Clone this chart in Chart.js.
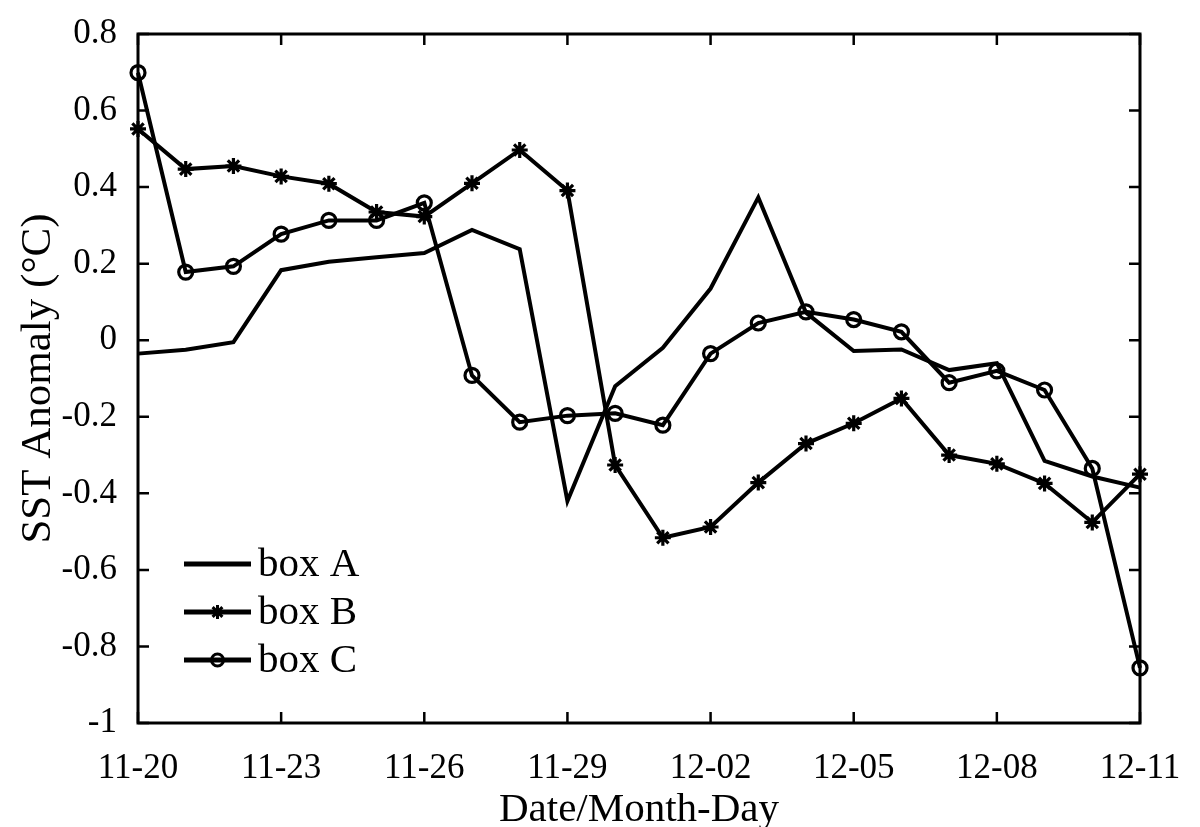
<!DOCTYPE html>
<html>
<head>
<meta charset="utf-8">
<script src="https://cdn.jsdelivr.net/npm/chart.js@4/dist/chart.umd.min.js"></script>
<style>
  html, body { margin: 0; padding: 0; background: #fff; }
  #wrap { width: 1200px; height: 827px; }
</style>
</head>
<body>
<div id="wrap"><canvas id="SST_Chart"></canvas></div>
<script>
////////////////////////data////////////////////////////////
var dates = ['11-20', '11-21', '11-22', '11-23', '11-24', '11-25', '11-26', '11-27',
             '11-28', '11-29', '11-30', '12-01', '12-02', '12-03', '12-04', '12-05',
             '12-06', '12-07', '12-08', '12-09', '12-10', '12-11'];
var xTickDates = ['11-20', '11-23', '11-26', '11-29', '12-02', '12-05', '12-08', '12-11'];
var yTicks = [-1, -0.8, -0.6, -0.4, -0.2, 0, 0.2, 0.4, 0.6, 0.8];

var boxA = [-0.035, -0.025, -0.005, 0.183, 0.205, 0.217, 0.228, 0.288, 0.238, -0.42, -0.12,
            -0.02, 0.135, 0.373, 0.072, -0.028, -0.024, -0.078, -0.06, -0.315, -0.356, -0.385];
var boxB = [0.552, 0.447, 0.455, 0.428, 0.409, 0.335, 0.323, 0.41, 0.497, 0.391, -0.326,
            -0.516, -0.488, -0.372, -0.27, -0.217, -0.152, -0.3, -0.323, -0.374, -0.476, -0.35];
var boxC = [0.699, 0.178, 0.193, 0.277, 0.313, 0.313, 0.359, -0.092, -0.214, -0.197, -0.191,
            -0.222, -0.035, 0.045, 0.074, 0.054, 0.022, -0.111, -0.08, -0.13, -0.335, -0.856];

var seriesNames = ['box A', 'box B', 'box C'];

/////////////////////////////////////////////////////////////
var FONT = "'Liberation Serif', 'Times New Roman', serif";

// MATLAB style box with inward ticks on all four sides
var boxFrame = {
    id: 'boxFrame',
    afterDraw: function(chart) {
        var ctx = chart.ctx;
        var a = chart.chartArea;
        var xs = chart.scales.x;
        var ys = chart.scales.y;
        var tl = 11;
        ctx.save();
        ctx.strokeStyle = '#000';
        ctx.lineWidth = 3;
        ctx.strokeRect(a.left, a.top, a.right - a.left, a.bottom - a.top);
        ctx.lineWidth = 2.5;
        ctx.beginPath();
        xTickDates.forEach(function(d) {
            var px = xs.getPixelForValue(dates.indexOf(d));
            ctx.moveTo(px, a.bottom); ctx.lineTo(px, a.bottom - tl);
            ctx.moveTo(px, a.top); ctx.lineTo(px, a.top + tl);
        });
        yTicks.forEach(function(v) {
            var py = ys.getPixelForValue(v);
            ctx.moveTo(a.left, py); ctx.lineTo(a.left + tl, py);
            ctx.moveTo(a.right, py); ctx.lineTo(a.right - tl, py);
        });
        ctx.stroke();

        // legend, line with marker in the middle
        var lx0 = 184, lx1 = 251, ly = 564, step = 48;
        chart.data.datasets.forEach(function(ds, i) {
            var y = ly + i * step;
            var cx = (lx0 + lx1) / 2;
            ctx.strokeStyle = '#000';
            ctx.lineWidth = 5;
            ctx.beginPath();
            ctx.moveTo(lx0, y); ctx.lineTo(lx1, y);
            ctx.stroke();
            ctx.lineWidth = 3;
            if (ds.pointStyle === 'star') {
                var r = 7;
                ctx.beginPath();
                ctx.moveTo(cx - r, y); ctx.lineTo(cx + r, y);
                ctx.moveTo(cx, y - r); ctx.lineTo(cx, y + r);
                ctx.moveTo(cx - r * 0.7, y - r * 0.7); ctx.lineTo(cx + r * 0.7, y + r * 0.7);
                ctx.moveTo(cx - r * 0.7, y + r * 0.7); ctx.lineTo(cx + r * 0.7, y - r * 0.7);
                ctx.stroke();
            } else if (ds.pointRadius > 0) {
                ctx.beginPath();
                ctx.arc(cx, y, 6, 0, Math.PI * 2);
                ctx.stroke();
            }
            ctx.fillStyle = '#000';
            ctx.font = '41px ' + FONT;
            ctx.textBaseline = 'middle';
            ctx.textAlign = 'left';
            ctx.fillText(ds.label, 258, y + 1);
        });
        ctx.restore();
    }
};

var SST_Chart = null;

function createSST_Chart() {
    var canvas = document.getElementById('SST_Chart');

    if (SST_Chart) {
        SST_Chart.destroy();
    }

    SST_Chart = new Chart(canvas, {
        type: 'line',
        data: {
            labels: dates,
            datasets: [
                {
                    label: seriesNames[0],
                    data: boxA,
                    borderColor: '#000',
                    borderWidth: 4,
                    pointRadius: 0,
                    tension: 0,
                    clip: false
                },
                {
                    label: seriesNames[1],
                    data: boxB,
                    borderColor: '#000',
                    borderWidth: 4,
                    pointStyle: 'star',
                    pointRadius: 8,
                    pointBorderWidth: 3.2,
                    pointBorderColor: '#000',
                    pointBackgroundColor: 'rgba(0,0,0,0)',
                    tension: 0,
                    clip: false
                },
                {
                    label: seriesNames[2],
                    data: boxC,
                    borderColor: '#000',
                    borderWidth: 4,
                    pointStyle: 'circle',
                    pointRadius: 7,
                    pointBorderWidth: 3.2,
                    pointBorderColor: '#000',
                    pointBackgroundColor: 'rgba(0,0,0,0)',
                    tension: 0,
                    clip: false
                }
            ]
        },
        options: {
            responsive: true,
            maintainAspectRatio: false,
            animation: false,
            layout: {
                padding: { left: 0, right: 60, top: 31, bottom: 0 }
            },
            plugins: {
                legend: { display: false },
                tooltip: { enabled: false }
            },
            scales: {
                x: {
                    type: 'category',
                    offset: false,
                    grid: { display: false },
                    border: { display: false },
                    afterFit: function(scale) { scale.height = 104; },
                    ticks: {
                        autoSkip: false,
                        maxRotation: 0,
                        padding: 17,
                        color: '#000',
                        font: { family: FONT, size: 35 },
                        callback: function(val, i) {
                            var d = dates[i];
                            return xTickDates.indexOf(d) >= 0 ? d : null;
                        }
                    },
                    title: {
                        display: true,
                        text: 'Date/Month-Day',
                        color: '#000',
                        font: { family: FONT, size: 41 },
                        padding: { top: 0, bottom: -8 }
                    }
                },
                y: {
                    min: -1,
                    max: 0.8,
                    grid: { display: false },
                    border: { display: false },
                    afterFit: function(scale) { scale.width = 138; },
                    afterBuildTicks: function(scale) {
                        scale.ticks = yTicks.map(function(v) { return { value: v }; });
                    },
                    ticks: {
                        padding: 13,
                        color: '#000',
                        font: { family: FONT, size: 35 },
                        callback: function(v) { return String(Math.round(v * 10) / 10); }
                    },
                    title: {
                        display: true,
                        text: 'SST Anomaly (°C)',
                        color: '#000',
                        font: { family: FONT, size: 43 },
                        padding: { top: 13, bottom: 0 }
                    }
                }
            }
        },
        plugins: [boxFrame]
    });
}

document.addEventListener('DOMContentLoaded', function() {
    createSST_Chart();
});
</script>
</body>
</html>
